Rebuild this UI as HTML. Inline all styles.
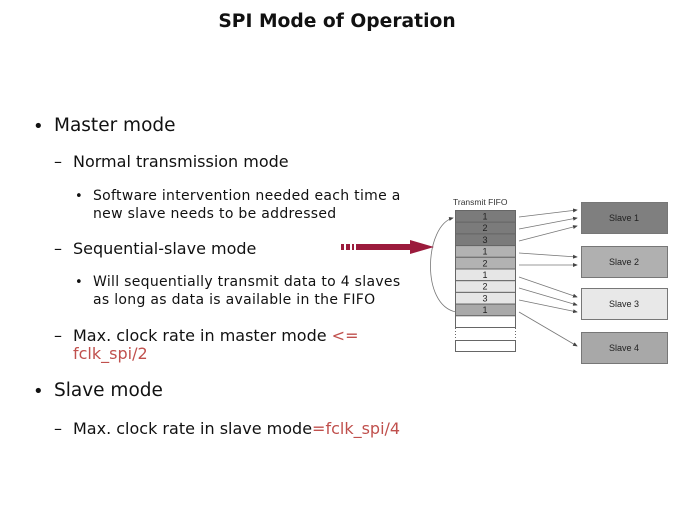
<!DOCTYPE html>
<html><head><meta charset="utf-8"><style>
body{margin:0;width:674px;height:506px;background:#fff;position:relative;overflow:hidden;font-family:"DejaVu Sans","Liberation Sans",sans-serif;color:#111}
.t{position:absolute;white-space:nowrap;line-height:1}
.r{color:#c0504d}
</style></head><body>
<div class="t" style="left:0;width:674px;text-align:center;top:13px;font-weight:bold;font-size:18.7px">SPI Mode of Operation</div>

<div class="t" style="left:33px;top:118px;font-size:18px">•</div>
<div class="t" style="left:54px;top:117px;font-size:18.5px">Master mode</div>
<div class="t" style="left:54px;top:154px;font-size:16px">–</div>
<div class="t" style="left:73px;top:154px;font-size:16px">Normal transmission mode</div>
<div class="t" style="left:75px;top:190px;font-size:13px">•</div>
<div class="t" style="left:93px;top:189px;font-size:14px;letter-spacing:.3px">Software intervention needed each time a</div>
<div class="t" style="left:93px;top:207px;font-size:14px;letter-spacing:.3px">new slave needs to be addressed</div>
<div class="t" style="left:54px;top:241px;font-size:16px">–</div>
<div class="t" style="left:73px;top:241px;font-size:16px">Sequential-slave mode</div>
<div class="t" style="left:75px;top:276px;font-size:13px">•</div>
<div class="t" style="left:93px;top:275px;font-size:14px;letter-spacing:.3px">Will sequentially transmit data to 4 slaves</div>
<div class="t" style="left:93px;top:293px;font-size:14px;letter-spacing:.3px">as long as data is available in the FIFO</div>
<div class="t" style="left:54px;top:328px;font-size:16px">–</div>
<div class="t" style="left:73px;top:328px;font-size:16px">Max. clock rate in master mode <span class="r">&lt;=</span></div>
<div class="t r" style="left:73px;top:346px;font-size:16px">fclk_spi/2</div>
<div class="t" style="left:33px;top:383px;font-size:18px">•</div>
<div class="t" style="left:54px;top:382px;font-size:18.5px">Slave mode</div>
<div class="t" style="left:54px;top:421px;font-size:16px">–</div>
<div class="t" style="left:73px;top:421px;font-size:16px">Max. clock rate in slave mode<span class="r">=fclk_spi/4</span></div>

<svg width="674" height="506" style="position:absolute;left:0;top:0" font-family="Liberation Sans,sans-serif">
<defs><marker id="a" markerWidth="6" markerHeight="6" refX="5" refY="3" orient="auto"><path d="M0,0.5L6,3L0,5.5z" fill="#444"/></marker></defs>
<text x="453" y="205" font-size="8.5" fill="#333">Transmit FIFO</text>
<g stroke="#666" stroke-width="1">
<rect x="455.5" y="210.5" width="60" height="11.7" fill="#7b7b7b"/>
<rect x="455.5" y="222.2" width="60" height="11.7" fill="#7b7b7b"/>
<rect x="455.5" y="233.9" width="60" height="11.7" fill="#7b7b7b"/>
<rect x="455.5" y="245.6" width="60" height="11.7" fill="#b2b2b2"/>
<rect x="455.5" y="257.3" width="60" height="11.7" fill="#b2b2b2"/>
<rect x="455.5" y="269" width="60" height="11.7" fill="#e6e6e6"/>
<rect x="455.5" y="280.7" width="60" height="11.7" fill="#e6e6e6"/>
<rect x="455.5" y="292.4" width="60" height="11.7" fill="#e6e6e6"/>
<rect x="455.5" y="304.1" width="60" height="11.7" fill="#a9a9a9"/>
<rect x="455.5" y="315.8" width="60" height="11.7" fill="#fff"/>
<rect x="455.5" y="340.5" width="60" height="11" fill="#fff"/>
<line x1="455.5" y1="328" x2="455.5" y2="340" stroke-dasharray="1,2"/>
<line x1="515.5" y1="328" x2="515.5" y2="340" stroke-dasharray="1,2"/>
</g>
<g font-size="9" fill="#222" text-anchor="middle">
<text x="485" y="219.5">1</text><text x="485" y="231.2">2</text><text x="485" y="242.9">3</text>
<text x="485" y="254.6">1</text><text x="485" y="266.3">2</text><text x="485" y="278">1</text>
<text x="485" y="289.7">2</text><text x="485" y="301.4">3</text><text x="485" y="313.1">1</text>
</g>
<g stroke="#777" stroke-width="1">
<rect x="581.5" y="202.5" width="86" height="31" fill="#7f7f7f"/>
<rect x="581.5" y="246.5" width="86" height="31" fill="#b0b0b0"/>
<rect x="581.5" y="288.5" width="86" height="31" fill="#e8e8e8"/>
<rect x="581.5" y="332.5" width="86" height="31" fill="#a8a8a8"/>
</g>
<g font-size="9" fill="#222" text-anchor="middle">
<text x="624" y="221">Slave 1</text><text x="624" y="265">Slave 2</text><text x="624" y="307">Slave 3</text><text x="624" y="351">Slave 4</text>
</g>
<g stroke="#777" stroke-width="0.8" fill="none" marker-end="url(#a)">
<line x1="519" y1="217" x2="577" y2="210"/>
<line x1="519" y1="229" x2="577" y2="218"/>
<line x1="519" y1="241" x2="577" y2="226"/>
<line x1="519" y1="253" x2="577" y2="257"/>
<line x1="519" y1="265" x2="577" y2="265"/>
<line x1="519" y1="277" x2="577" y2="297"/>
<line x1="519" y1="288" x2="577" y2="305"/>
<line x1="519" y1="300" x2="577" y2="312"/>
<line x1="519" y1="312" x2="577" y2="346"/>
<path d="M456,312 C420,305 425,225 453,218"/>
</g>
<g fill="#9b1b3c">
<rect x="341" y="244" width="3" height="6"/>
<rect x="346" y="244" width="4" height="6"/>
<rect x="352" y="244" width="2" height="6"/>
<rect x="356" y="244" width="56" height="6"/>
<path d="M410,240 L434,247 L410,254z"/>
</g>
</svg>
</body></html>
